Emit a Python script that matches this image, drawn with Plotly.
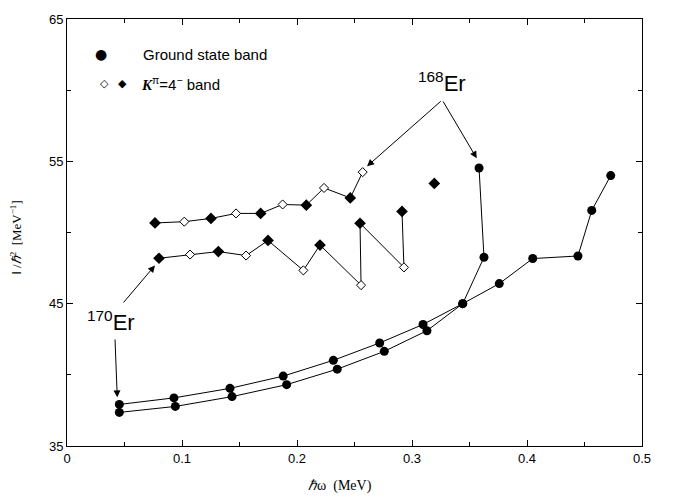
import plotly.graph_objects as go

# Ground state band, 170Er (upper at low frequency)
gsb170_w = [0.0455, 0.093, 0.1417, 0.188, 0.2316, 0.2719, 0.3096, 0.3441, 0.3759, 0.405, 0.4443, 0.4563, 0.4728]
gsb170_I = [37.92, 38.38, 39.05, 39.91, 41.02, 42.24, 43.54, 45.0, 46.41, 48.17, 48.35, 51.55, 54.0]

# Ground state band, 168Er
gsb168_w = [0.0455, 0.0942, 0.1435, 0.191, 0.235, 0.2759, 0.313, 0.3441, 0.3626, 0.3583]
gsb168_I = [37.36, 37.78, 38.47, 39.31, 40.40, 41.65, 43.10, 45.0, 48.26, 54.53]

# K=4- band, 168Er (upper); None marks a gap in the line
k168_w = [0.0765, 0.102, 0.1252, 0.147, 0.1684, 0.1875, 0.2081, 0.2235, 0.2463, 0.2571, None, 0.3194]
k168_I = [50.67, 50.76, 50.99, 51.34, 51.34, 51.97, 51.92, 53.13, 52.43, 54.24, None, 53.45]
k168_filled = [True, False, True, False, True, False, True, False, True, False, None, True]

# K=4- band, 170Er (lower)
k170_w = [0.08, 0.107, 0.1316, 0.1557, 0.1748, 0.2055, 0.22, 0.2557, 0.2548, 0.293, 0.2913]
k170_I = [48.19, 48.45, 48.66, 48.38, 49.44, 47.34, 49.12, 46.30, 50.65, 47.55, 51.48]
k170_filled = [True, False, True, False, True, False, True, False, True, False, True]

x_ticks = [0, 0.1, 0.2, 0.3, 0.4, 0.5]
x_ticklabels = ["0", "0.1", "0.2", "0.3", "0.4", "0.5"]
y_ticks = [35, 45, 55, 65]

fig = go.Figure()

line_style = dict(color="black", width=1)

for w, I in [(gsb170_w, gsb170_I), (gsb168_w, gsb168_I)]:
    fig.add_trace(go.Scatter(x=w, y=I, mode="lines+markers", line=line_style,
                             marker=dict(symbol="circle", size=9, color="black"),
                             showlegend=False, hoverinfo="skip"))

for w, I, filled in [(k168_w, k168_I, k168_filled), (k170_w, k170_I, k170_filled)]:
    fig.add_trace(go.Scatter(x=w, y=I, mode="lines", line=line_style,
                             connectgaps=False, showlegend=False, hoverinfo="skip"))
    fw = [a for a, f in zip(w, filled) if f is True]
    fI = [b for b, f in zip(I, filled) if f is True]
    ow = [a for a, f in zip(w, filled) if f is False]
    oI = [b for b, f in zip(I, filled) if f is False]
    fig.add_trace(go.Scatter(x=fw, y=fI, mode="markers",
                             marker=dict(symbol="diamond", size=9, color="black"),
                             showlegend=False, hoverinfo="skip"))
    fig.add_trace(go.Scatter(x=ow, y=oI, mode="markers",
                             marker=dict(symbol="diamond", size=7, color="white",
                                         line=dict(color="black", width=1)),
                             showlegend=False, hoverinfo="skip"))

# Labels and arrows
lab_font = dict(family="Liberation Sans, Arial", size=22, color="black")
fig.add_annotation(x=0.326, y=60.6, text="<sup>168</sup>Er", showarrow=False,
                   font=lab_font, xanchor="center", yanchor="middle")
fig.add_annotation(x=0.038, y=43.8, text="<sup>170</sup>Er", showarrow=False,
                   font=lab_font, xanchor="center", yanchor="middle")

arrows = [
    ((0.2609, 54.65), (0.3263, 59.31)),
    ((0.3563, 55.21), (0.3263, 59.31)),
    ((0.0765, 47.69), (0.0481, 44.98)),
    ((0.0437, 38.42), (0.0417, 42.59)),
]
for (hx, hy), (tx, ty) in arrows:
    fig.add_annotation(x=hx, y=hy, ax=tx, ay=ty, xref="x", yref="y", axref="x", ayref="y",
                       text="", showarrow=True, arrowhead=2, arrowsize=1.4,
                       arrowwidth=1, arrowcolor="black", standoff=0)

# Legend drawn as text
leg_font = dict(family="Liberation Sans, Arial", size=15, color="black")
fig.add_annotation(xref="paper", yref="paper", x=0.059, y=0.918, text="●", showarrow=False,
                   font=dict(family="DejaVu Sans", size=14, color="black"),
                   xanchor="center", yanchor="middle")
fig.add_annotation(xref="paper", yref="paper", x=0.128, y=0.918, text="Ground state band",
                   showarrow=False, font=leg_font, xanchor="left", yanchor="middle")
fig.add_annotation(xref="paper", yref="paper", x=0.066, y=0.848, text="◇", showarrow=False,
                   font=dict(family="DejaVu Sans", size=11, color="black"),
                   xanchor="center", yanchor="middle")
fig.add_annotation(xref="paper", yref="paper", x=0.097, y=0.848, text="◆", showarrow=False,
                   font=dict(family="DejaVu Sans", size=11, color="black"),
                   xanchor="center", yanchor="middle")
fig.add_annotation(xref="paper", yref="paper", x=0.126, y=0.848,
                   text="<span style='font-family:Liberation Serif'><b><i>K</i></b></span><sup>π</sup>=4<sup>−</sup> band",
                   showarrow=False, font=leg_font, xanchor="left", yanchor="middle")

# Axis titles as annotations
fig.add_annotation(xref="paper", yref="paper", x=0.475, y=-0.093,
                   text="<i>ℏ</i>ω  (MeV)", showarrow=False,
                   font=dict(family="Liberation Serif, Times New Roman", size=14, color="black"),
                   xanchor="center", yanchor="middle")
fig.add_annotation(xref="paper", yref="paper", x=-0.09, y=0.488, textangle=-90,
                   text="<span style='font-family:Liberation Sans'>I</span> /<i>ℏ</i><sup>2</sup>  [MeV<sup>−1</sup>]",
                   showarrow=False,
                   font=dict(family="Liberation Serif, Times New Roman", size=13, color="black"),
                   xanchor="center", yanchor="middle")

axis_common = dict(showline=True, linecolor="black", linewidth=1, mirror="allticks",
                   ticks="inside", ticklen=6, tickwidth=1, tickcolor="black",
                   showgrid=False, zeroline=False,
                   tickfont=dict(family="Liberation Sans, Arial", size=13, color="black"))

fig.update_xaxes(range=[0, 0.5], tickvals=x_ticks, ticktext=x_ticklabels,
                 minor=dict(dtick=0.05, ticks="inside", ticklen=4, tickcolor="black", showgrid=False),
                 **axis_common)
fig.update_yaxes(range=[35, 65], tickvals=y_ticks,
                 minor=dict(tickvals=[40, 50, 60], ticks="inside", ticklen=4, tickcolor="black", showgrid=False),
                 **axis_common)

fig.update_layout(width=675, height=497, margin=dict(l=67, r=33, t=14, b=51),
                  plot_bgcolor="white", paper_bgcolor="white", showlegend=False)

fig.write_html("out.html")
